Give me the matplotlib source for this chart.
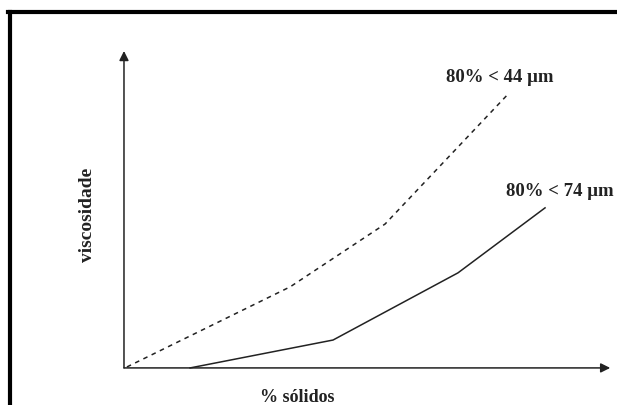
import matplotlib.pyplot as plt
from matplotlib.lines import Line2D

# schematic values, % solids (x) vs viscosity (y), arbitrary 0-100 units
fine_x = [0.6, 34.2, 53.7, 79.0]
fine_y = [0.3, 25.6, 45.4, 86.4]
coarse_x = [13.6, 43.0, 68.7, 86.6]
coarse_y = [0.0, 8.8, 30.0, 50.5]
fine_label = "80% < 44 μm"
coarse_label = "80% < 74 μm"
xlabel = "% sólidos"
ylabel = "viscosidade"

plt.rcParams['font.family'] = ['Liberation Serif', 'DejaVu Serif']

fig = plt.figure(figsize=(6.17, 4.06), dpi=100)
ax = fig.add_axes([0, 0, 1, 1])
ax.set_xlim(-25.5, 101.4)
ax.set_ylim(-11.7, 116.4)
ax.axis("off")

ink = "#222222"
ax.plot(fine_x, fine_y, color=ink, lw=1.1, ls=(0, (3, 3)))
ax.plot(coarse_x, coarse_y, color=ink, lw=1.1)

# axes as arrows
arrow = dict(arrowstyle="-|>", color=ink, lw=1.1, mutation_scale=14, shrinkA=0, shrinkB=0)
ax.annotate("", xy=(0, 100), xytext=(0, 0), arrowprops=arrow)
ax.annotate("", xy=(100, 0), xytext=(0, 0), arrowprops=arrow)

ax.text(77.2, 91.9, fine_label, ha="center", va="center", fontsize=13.5, fontweight="bold", color=ink)
ax.text(89.7, 56.1, coarse_label, ha="center", va="center", fontsize=13.5, fontweight="bold", color=ink)
ax.text(-7.6, 48.6, ylabel, ha="center", va="center", rotation=90, fontsize=14, fontweight="bold", color=ink)
ax.text(35.6, -9.0, xlabel, ha="center", va="center", fontsize=13, fontweight="bold", color=ink)

# scanned page frame (left and top edges)
fig.add_artist(Line2D([10 / 617, 10 / 617], [0, 1 - 12.5 / 406], transform=fig.transFigure, color="black", lw=3))
fig.add_artist(Line2D([8 / 617, 1], [1 - 12.5 / 406, 1 - 12.5 / 406], transform=fig.transFigure, color="black", lw=3))

fig.savefig("out.png", dpi=100)
